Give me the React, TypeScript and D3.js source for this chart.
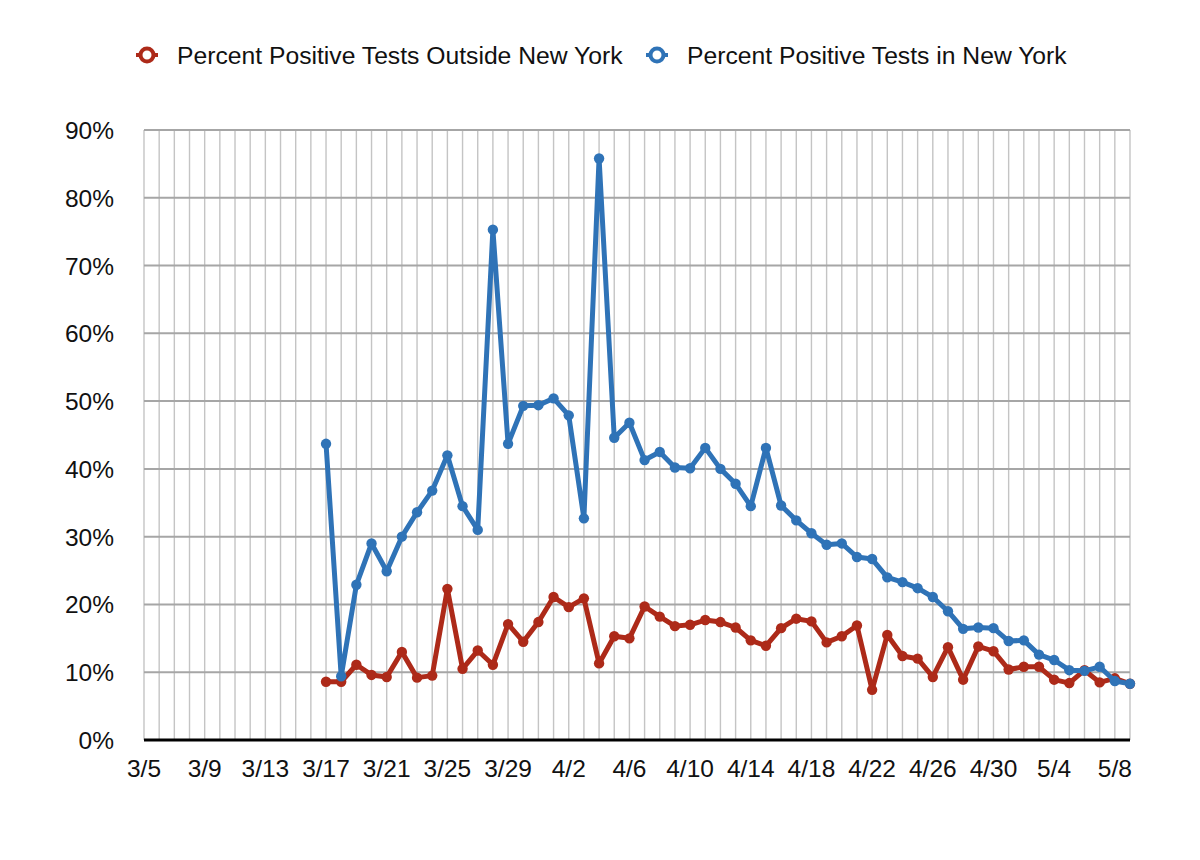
import * as d3 from 'd3'
import { useEffect, useRef } from 'react'

// every day shown on the x axis
const dates = [
  '3/5', '3/6', '3/7', '3/8', '3/9', '3/10', '3/11', '3/12', '3/13', '3/14', '3/15', '3/16',
  '3/17', '3/18', '3/19', '3/20', '3/21', '3/22', '3/23', '3/24', '3/25', '3/26', '3/27', '3/28',
  '3/29', '3/30', '3/31', '4/1', '4/2', '4/3', '4/4', '4/5', '4/6', '4/7', '4/8', '4/9', '4/10',
  '4/11', '4/12', '4/13', '4/14', '4/15', '4/16', '4/17', '4/18', '4/19', '4/20', '4/21', '4/22',
  '4/23', '4/24', '4/25', '4/26', '4/27', '4/28', '4/29', '4/30', '5/1', '5/2', '5/3', '5/4',
  '5/5', '5/6', '5/7', '5/8', '5/9'
]

// data begins on 3/17
const firstDataDate = '3/17'

const nyPct = [
  43.7, 9.4, 22.9, 29.0, 24.9, 30.0, 33.6, 36.8, 42.0, 34.5, 31.0, 75.3, 43.7, 49.3, 49.4,
  50.4, 47.9, 32.7, 85.8, 44.6, 46.8, 41.3, 42.5, 40.2, 40.1, 43.1, 40.0, 37.8, 34.5, 43.1,
  34.6, 32.4, 30.5, 28.8, 29.0, 27.0, 26.7, 24.0, 23.3, 22.4, 21.1, 19.0, 16.4, 16.6, 16.5,
  14.6, 14.7, 12.6, 11.8, 10.3, 10.2, 10.8, 8.7, 8.3
]

const outsidePct = [
  8.6, 8.6, 11.1, 9.6, 9.3, 13.0, 9.2, 9.5, 22.3, 10.5, 13.2, 11.1, 17.1, 14.5, 17.4,
  21.1, 19.6, 20.9, 11.3, 15.3, 15.0, 19.7, 18.2, 16.8, 17.0, 17.7, 17.4, 16.6, 14.7, 13.9,
  16.5, 17.9, 17.5, 14.4, 15.3, 16.9, 7.4, 15.5, 12.4, 12.0, 9.3, 13.7, 8.9, 13.8, 13.1,
  10.4, 10.8, 10.8, 8.9, 8.4, 10.3, 8.5, 9.1, 8.3
]

const yTicks = [0, 10, 20, 30, 40, 50, 60, 70, 80, 90]
const xLabelEvery = 4

const series = [
  { name: 'Percent Positive Tests Outside New York', values: outsidePct, color: '#ad2a19' },
  { name: 'Percent Positive Tests in New York', values: nyPct, color: '#2f73b7' }
]

const W = 1200
const H = 860
const font = '"Liberation Sans", Arial, Helvetica, sans-serif'

export default function App() {
  const svgRef = useRef<SVGSVGElement>(null)

  useEffect(() => {
    const svg = d3.select(svgRef.current)
    svg.selectAll('*').remove()

    const left = 144, right = 1130, top = 130, bottom = 740

    const x = d3.scalePoint<string>().domain(dates).range([left, right])
    const y = d3.scaleLinear().domain([0, 90]).range([bottom, top])

    const start = dates.indexOf(firstDataDate)

    // vertical grid, one per day
    svg.append('g')
      .selectAll('line')
      .data(dates)
      .enter().append('line')
      .attr('x1', d => x(d) as number)
      .attr('x2', d => x(d) as number)
      .attr('y1', top)
      .attr('y2', bottom)
      .attr('stroke', '#c4c4c4')
      .attr('stroke-width', 1.4)

    // horizontal grid
    svg.append('g')
      .selectAll('line')
      .data(yTicks.filter(t => t > 0))
      .enter().append('line')
      .attr('x1', left)
      .attr('x2', right)
      .attr('y1', d => y(d))
      .attr('y2', d => y(d))
      .attr('stroke', '#a6a6a6')
      .attr('stroke-width', 2)

    // x axis base line
    svg.append('line')
      .attr('x1', left)
      .attr('x2', right)
      .attr('y1', y(0))
      .attr('y2', y(0))
      .attr('stroke', '#000')
      .attr('stroke-width', 3)

    // y tick labels
    svg.append('g')
      .selectAll('text')
      .data(yTicks)
      .enter().append('text')
      .attr('x', 114)
      .attr('y', d => y(d) + 9)
      .attr('text-anchor', 'end')
      .style('font-family', font)
      .style('font-size', '24.5px')
      .attr('fill', '#111')
      .text(d => d + '%')

    // x tick labels
    svg.append('g')
      .selectAll('text')
      .data(dates.filter((_, i) => i % xLabelEvery === 0))
      .enter().append('text')
      .attr('x', d => x(d) as number)
      .attr('y', 777)
      .attr('text-anchor', 'middle')
      .style('font-family', font)
      .style('font-size', '24.5px')
      .attr('fill', '#111')
      .text(d => d)

    const line = d3.line<number>()
      .x((_, i) => x(dates[start + i]) as number)
      .y(d => y(d))

    series.forEach(s => {
      svg.append('path')
        .datum(s.values)
        .attr('d', line)
        .attr('fill', 'none')
        .attr('stroke', s.color)
        .attr('stroke-width', 5)
        .attr('stroke-linejoin', 'round')

      svg.append('g')
        .selectAll('circle')
        .data(s.values)
        .enter().append('circle')
        .attr('cx', (_, i) => x(dates[start + i]) as number)
        .attr('cy', d => y(d))
        .attr('r', 5.2)
        .attr('fill', s.color)
    })

    // legend
    const legendX = [147, 657]
    series.forEach((s, i) => {
      const g = svg.append('g').attr('transform', `translate(${legendX[i]},55)`)
      g.append('line')
        .attr('x1', -11).attr('x2', 11)
        .attr('y1', 0).attr('y2', 0)
        .attr('stroke', s.color).attr('stroke-width', 4)
      g.append('circle')
        .attr('r', 6.5)
        .attr('fill', '#fff')
        .attr('stroke', s.color)
        .attr('stroke-width', 4)
      g.append('text')
        .attr('x', 30)
        .attr('y', 9)
        .style('font-family', font)
        .style('font-size', '24.7px')
        .attr('fill', '#111')
        .text(s.name)
    })
  }, [])

  return (
    <svg
      ref={svgRef}
      width={W}
      height={H}
      style={{ position: 'absolute', left: 0, top: 0, background: '#fff' }}
    />
  )
}
